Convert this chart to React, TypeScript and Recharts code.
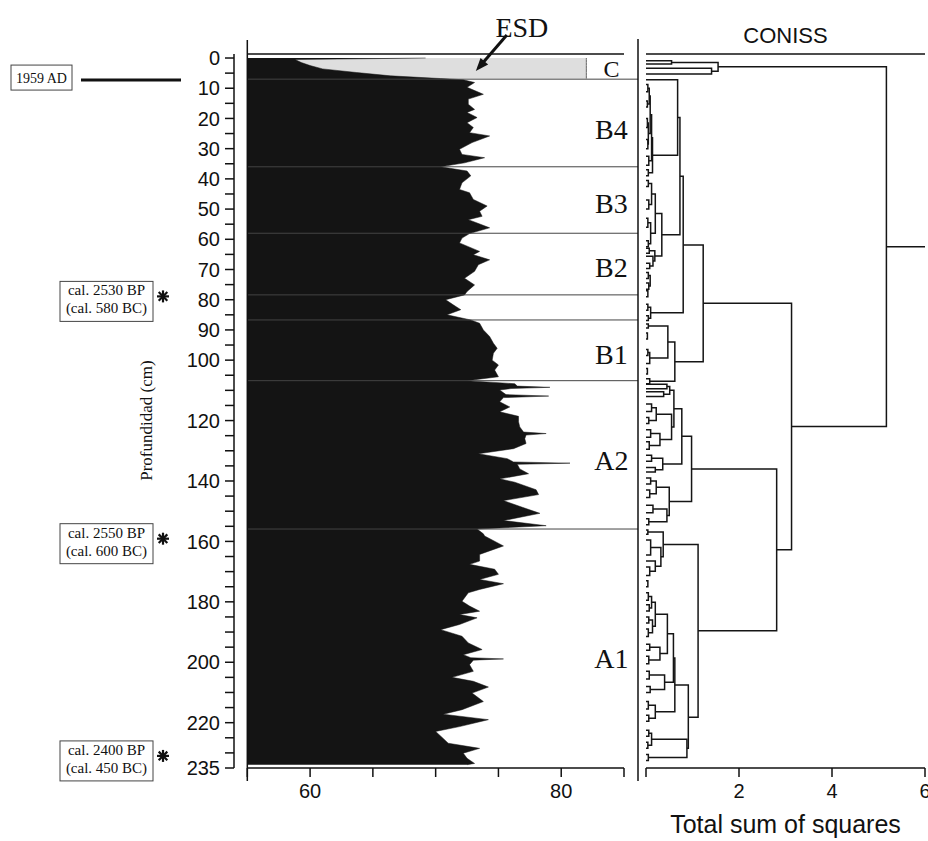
import React from "react";
import {
  ComposedChart,
  Area,
  Scatter,
  XAxis,
  YAxis,
  ReferenceLine,
  ReferenceDot,
} from "recharts";

const SANS = "'Liberation Sans', Arial, sans-serif";
const SERIF = "'Liberation Serif', 'Times New Roman', serif";

// profile: depth (cm) and value
const depths = [
  0, 0.5, 1.5, 2.5, 3.6, 4.8, 5.9, 6.8, 7.2, 8.1, 9.7, 12.0, 13.6, 15.3, 17.0, 18.0, 19.7, 21.4, 23.0, 24.7,
  25.8, 28.0, 30.2, 31.9, 33.0, 34.7, 36.0, 37.4, 39.0, 41.3, 43.5, 44.6, 46.8, 49.0, 50.7, 52.4, 53.5, 54.6,
  56.2, 58.1, 59.6, 61.2, 64.0, 65.1, 66.8, 68.4, 70.6, 72.9, 75.1, 77.3, 78.4, 80.0, 81.7, 83.3, 85.0, 86.7,
  87.8, 90.0, 92.2, 94.4, 96.1, 97.7, 100.0, 101.6, 103.3, 105.5, 106.8, 107.8, 108.6, 109.0, 109.4, 109.9,
  111.4, 111.9, 112.4, 113.8, 115.5, 117.1, 118.6, 120.4, 122.1, 123.8, 124.3, 124.8, 126.0, 127.6, 129.3,
  131.0, 132.6, 133.7, 134.1, 134.5, 136.0, 137.6, 139.3, 140.4, 142.9, 144.5, 146.5, 148.7, 150.7, 153.1,
  154.8, 155.9, 157.5, 158.2, 161.5, 164.3, 166.5, 167.6, 169.2, 170.9, 172.6, 174.0, 175.9, 177.0, 179.8,
  181.4, 183.1, 184.2, 185.3, 187.5, 189.2, 191.4, 193.6, 195.8, 197.5, 198.5, 198.9, 199.3, 200.8, 203.0,
  205.0, 206.3, 208.2, 210.2, 213.0, 215.7, 217.2, 219.0, 221.3, 222.9, 225.2, 226.8, 228.5, 230.1, 231.8,
  233.5, 233.9,
];
const values = [
  69.2, 58.8, 59.3, 60.0, 61.0, 63.7, 66.4, 70.4, 72.2, 73.1, 72.5, 73.8, 72.6, 72.6, 73.1, 72.5, 73.3, 72.5, 73.0, 72.7,
  74.3, 72.9, 71.9, 72.1, 73.9, 72.3, 70.4, 72.5, 72.8, 72.1, 71.9, 72.7, 73.0, 74.1, 73.5, 73.7, 72.6, 73.3,
  74.3, 72.7, 72.1, 71.9, 73.5, 73.0, 74.3, 73.4, 73.1, 72.3, 73.1, 72.5, 72.3, 70.8, 71.4, 72.0, 70.9, 72.8,
  73.5, 73.8, 74.3, 74.6, 74.9, 74.6, 74.5, 75.0, 74.7, 75.0, 72.5, 76.3, 76.5, 79.1, 76.0, 75.1,
  75.6, 79.0, 75.4, 75.1, 75.9, 75.1, 76.6, 76.6, 76.7, 77.0, 78.8, 77.2, 77.1, 77.2, 76.2,
  73.4, 75.7, 76.2, 80.7, 76.5, 76.7, 77.4, 75.1, 76.3, 78.0, 78.2, 75.4, 76.9, 78.3, 75.4,
  78.8, 73.3, 73.8, 73.9, 75.4, 73.5, 73.5, 72.7, 74.7, 75.0, 73.5, 75.4, 73.5, 72.6, 72.1,
  72.7, 73.5, 71.9, 73.3, 71.9, 70.4, 72.1, 72.6, 73.7, 72.2, 72.8, 75.4, 73.0, 72.7, 73.0,
  71.3, 73.0, 74.2, 72.9, 73.8, 72.1, 70.6, 74.2, 71.9, 70.0, 70.6, 71.0, 73.5, 72.2, 72.5,
  73.1, 72.5,
];

// ESD band at the top of the core
const esdDepths = [0, 0.5, 1.5, 2.5, 3.6, 4.8, 5.9, 6.8];
const esdValues = [82, 82, 82, 82, 82, 82, 82, 82];

const depthTicks = [
  0, 5, 10, 15, 20, 25, 30, 35, 40, 45, 50, 55, 60, 65, 70, 75, 80, 85, 90, 95, 100, 105, 110, 115, 120,
  125, 130, 135, 140, 145, 150, 155, 160, 165, 170, 175, 180, 185, 190, 195, 200, 205, 210, 215, 220, 225,
  230, 235,
];
const depthLabels = [0, 10, 20, 30, 40, 50, 60, 70, 80, 90, 100, 120, 140, 160, 180, 200, 220, 235];
const valueTicks = [55, 60, 65, 70, 75, 80, 85];
const valueTopTicks = [60, 65, 70, 75, 80];
const valueLabels = [60, 80];

const zoneBounds = [7, 36, 58, 78.4, 86.7, 106.8, 155.9];
const zoneNames = ["C", "B4", "B3", "B2", "B1", "A2", "A1"];
const zoneLabelDepths = [3.5, 23.5, 48, 69.3, 98.1, 133.2, 198.5];

const surfaceDepth = 7.3;
const surfaceText = "1959 AD";
const datingDepths = [78.9, 159.1, 231.0];
const datingBP = ["cal. 2530 BP", "cal. 2550 BP", "cal. 2400 BP"];
const datingBC = ["(cal. 580 BC)", "(cal. 600 BC)", "(cal. 450 BC)"];

// CONISS links: [top depth, top height, bottom depth, bottom height, node height]
const coniss: number[][] = [
  [0.9, 0, 2.0, 0, 0.55],
  [3.4, 0, 5.3, 0, 1.41],
  [1.45, 0.55, 4.35, 1.41, 1.55],
  [2.9, 1.55, 122.0, 3.13, 5.17],
  [81.2, 1.23, 162.8, 2.81, 3.13],
  [61.9, 0.8, 100.5, 0.62, 1.23],
  [136.0, 0.98, 189.6, 1.12, 2.81],
  [39.1, 0.73, 84.3, 0.1, 0.8],
  [19.7, 0.68, 58.5, 0.34, 0.73],
  [7.2, 0, 32.2, 0.14, 0.68],
  [26.4, 0.12, 38.0, 0.05, 0.14],
  [37.0, 0, 39.0, 0, 0.05],
  [18.8, 0.09, 34.0, 0.06, 0.12],
  [32.5, 0, 35.5, 0, 0.06],
  [12.6, 0.07, 25.0, 0.05, 0.09],
  [10.0, 0.04, 15.2, 0.03, 0.07],
  [8.8, 0, 11.2, 0, 0.04],
  [14.2, 0, 16.2, 0, 0.03],
  [21.5, 0.03, 28.5, 0.04, 0.05],
  [20.0, 0, 23.0, 0, 0.03],
  [27.0, 0, 30.0, 0, 0.04],
  [51.5, 0.2, 65.5, 0.19, 0.34],
  [45.0, 0.12, 58.0, 0.1, 0.2],
  [41.5, 0.05, 48.5, 0.06, 0.12],
  [40.5, 0, 42.5, 0, 0.05],
  [47.0, 0, 50.0, 0, 0.06],
  [54.5, 0.04, 61.5, 0.05, 0.1],
  [53.0, 0, 56.0, 0, 0.04],
  [60.5, 0, 62.5, 0, 0.05],
  [63.8, 0.07, 67.2, 0.15, 0.19],
  [63.0, 0, 64.6, 0, 0.07],
  [65.6, 0, 68.8, 0.08, 0.15],
  [67.9, 0, 69.7, 0, 0.08],
  [71.0, 0, 73.0, 0, 0.05],
  [74.5, 0, 76.5, 0, 0.06],
  [72.0, 0.05, 75.5, 0.06, 0.09],
  [77.0, 0, 79.0, 0, 0.04],
  [82.5, 0.04, 86.1, 0.05, 0.1],
  [81.5, 0, 83.5, 0, 0.04],
  [85.3, 0, 86.9, 0, 0.05],
  [94.0, 0.47, 107.0, 0.08, 0.62],
  [88.7, 0.05, 99.3, 0.08, 0.47],
  [88.0, 0, 89.4, 0, 0.05],
  [97.5, 0.04, 101.1, 0, 0.08],
  [96.5, 0, 98.5, 0, 0.04],
  [106.2, 0, 107.8, 0, 0.08],
  [91.0, 0, 93.0, 0, 0.03],
  [102.8, 0, 104.6, 0, 0.03],
  [108.0, 0, 109.5, 0, 0.45],
  [110.5, 0, 112.0, 0, 0.38],
  [108.75, 0.45, 111.25, 0.38, 0.51],
  [114.5, 0, 117.0, 0, 0.12],
  [119.0, 0, 121.0, 0, 0.06],
  [115.75, 0.12, 120.0, 0.06, 0.22],
  [123.0, 0, 125.5, 0, 0.1],
  [127.0, 0, 129.5, 0, 0.07],
  [124.25, 0.1, 128.25, 0.07, 0.3],
  [117.9, 0.22, 126.25, 0.3, 0.55],
  [110.0, 0.51, 122.1, 0.55, 0.6],
  [131.5, 0, 133.5, 0, 0.12],
  [135.5, 0, 137.0, 0, 0.2],
  [132.5, 0.12, 136.25, 0.2, 0.36],
  [116.05, 0.6, 134.4, 0.36, 0.77],
  [139.0, 0, 141.0, 0, 0.1],
  [143.0, 0, 145.5, 0, 0.08],
  [140.0, 0.1, 144.25, 0.08, 0.22],
  [148.0, 0, 150.5, 0, 0.15],
  [152.5, 0, 154.5, 0, 0.06],
  [149.25, 0.15, 153.5, 0.06, 0.45],
  [142.1, 0.22, 151.4, 0.45, 0.5],
  [125.2, 0.77, 146.75, 0.5, 0.98],
  [161.0, 0.37, 218.2, 0.91, 1.12],
  [156.2, 0, 157.6, 0, 0.04],
  [156.9, 0.04, 165.1, 0.32, 0.37],
  [162.0, 0.1, 168.2, 0.2, 0.32],
  [159.5, 0, 164.5, 0, 0.1],
  [166.5, 0, 169.9, 0.08, 0.2],
  [168.5, 0, 171.3, 0, 0.08],
  [173.0, 0, 175.0, 0, 0.04],
  [177.0, 0, 179.5, 0, 0.05],
  [181.0, 0, 183.0, 0, 0.07],
  [178.25, 0.05, 182.0, 0.07, 0.12],
  [185.0, 0, 187.0, 0, 0.06],
  [189.0, 0, 191.5, 0, 0.05],
  [186.0, 0.06, 190.25, 0.05, 0.14],
  [180.1, 0.12, 188.1, 0.14, 0.2],
  [194.0, 0, 196.0, 0, 0.08],
  [198.0, 0, 200.5, 0, 0.06],
  [195.0, 0.08, 199.25, 0.06, 0.3],
  [184.1, 0.2, 197.1, 0.3, 0.46],
  [203.0, 0, 205.5, 0, 0.07],
  [208.0, 0, 210.0, 0, 0.09],
  [204.25, 0.07, 209.0, 0.09, 0.4],
  [190.6, 0.46, 206.6, 0.4, 0.59],
  [213.0, 0, 215.5, 0, 0.05],
  [217.5, 0, 219.5, 0, 0.06],
  [214.25, 0.05, 218.5, 0.06, 0.2],
  [198.6, 0.59, 216.4, 0.2, 0.62],
  [222.5, 0, 224.5, 0, 0.06],
  [226.5, 0, 228.5, 0, 0.04],
  [223.5, 0.06, 227.5, 0.04, 0.12],
  [230.5, 0, 232.5, 0, 0.05],
  [225.5, 0.12, 231.5, 0.05, 0.88],
  [207.5, 0.62, 228.5, 0.88, 0.91],
];
const rootDepth = 62.45;
const rootHeight = 5.17;
const sumTicks = [0, 2, 4, 6];
const sumTopTicks = [2, 4, 6];

const DEPTH_DOMAIN: [number, number] = [-1.33, 235];
const VALUE_DOMAIN: [number, number] = [53.94, 86.115];
const INK = "#111";
const TREE = "#151515";

const Asterisk = ({ x, y }: { x: number; y: number }) => (
  <g stroke={INK} strokeWidth={2.2}>
    <line x1={x - 6} y1={y} x2={x + 6} y2={y} />
    <line x1={x} y1={y - 6} x2={x} y2={y + 6} />
    <line x1={x - 4.3} y1={y - 4.3} x2={x + 4.3} y2={y + 4.3} />
    <line x1={x - 4.3} y1={y + 4.3} x2={x + 4.3} y2={y - 4.3} />
  </g>
);

export default function App() {
  const profile = depths.map((depth, i) => {
    const k = esdDepths.indexOf(depth);
    return { depth, cond: values[i], esd: k >= 0 ? esdValues[k] : null };
  });

  const axisTick = { fontSize: 20, fill: INK, fontFamily: SANS };
  const axisStroke = { stroke: INK, strokeWidth: 1.5 };

  return (
    <div style={{ position: "absolute", left: 0, top: 0, width: 928, height: 841, background: "#fff" }}>
      <div style={{ position: "absolute", left: 0, top: 0 }}>
        <ComposedChart
          width={640}
          height={841}
          layout="vertical"
          data={profile}
          margin={{ top: 54, right: 2, bottom: 33, left: 134 }}
        >
          <XAxis
            xAxisId="b"
            type="number"
            orientation="bottom"
            domain={VALUE_DOMAIN}
            allowDataOverflow
            ticks={valueTicks}
            interval={0}
            tickFormatter={(v: number) => (valueLabels.includes(v) ? String(v) : "")}
            axisLine={false}
            tickLine={axisStroke}
            tickSize={9}
            tickMargin={7}
            height={40}
            tick={axisTick}
          />
          <XAxis
            xAxisId="t"
            type="number"
            orientation="top"
            domain={VALUE_DOMAIN}
            allowDataOverflow
            ticks={valueTopTicks}
            interval={0}
            tick={false}
            axisLine={false}
            tickLine={{ stroke: INK, strokeWidth: 1.2 }}
            mirror
            tickSize={3}
            height={1}
          />
          <YAxis
            type="number"
            dataKey="depth"
            domain={DEPTH_DOMAIN}
            allowDataOverflow
            ticks={depthTicks}
            interval={0}
            tickFormatter={(v: number) => (depthLabels.includes(v) ? String(v) : "")}
            width={100}
            tickSize={9}
            tickMargin={5}
            axisLine={axisStroke}
            tickLine={axisStroke}
            tick={axisTick}
          />
          <Area
            xAxisId="b"
            dataKey="esd"
            type="linear"
            baseValue={55}
            fill="#dedede"
            fillOpacity={1}
            stroke="#666"
            strokeWidth={1}
            dot={false}
            activeDot={false}
            isAnimationActive={false}
          />
          <Area
            xAxisId="b"
            dataKey="cond"
            type="linear"
            baseValue={55}
            fill="#141414"
            fillOpacity={1}
            stroke="#141414"
            strokeWidth={0.5}
            dot={false}
            activeDot={false}
            isAnimationActive={false}
          />
          {zoneBounds.map((d) => (
            <ReferenceLine
              key={"z" + d}
              xAxisId="b"
              segment={[{ x: 55, y: d }, { x: VALUE_DOMAIN[1], y: d }]}
              stroke="#444"
              strokeWidth={1}
            />
          ))}
          {/* frame lines */}
          <ReferenceLine
            xAxisId="b"
            ifOverflow="visible"
            segment={[{ x: 55, y: -6 }, { x: 55, y: 239.3 }]}
            stroke={INK}
            strokeWidth={1.5}
          />
          <ReferenceLine
            xAxisId="b"
            ifOverflow="visible"
            segment={[{ x: VALUE_DOMAIN[1], y: -6.3 }, { x: VALUE_DOMAIN[1], y: 239.3 }]}
            stroke={INK}
            strokeWidth={1.5}
          />
          <ReferenceLine
            xAxisId="b"
            ifOverflow="visible"
            segment={[{ x: 55, y: 235 }, { x: 85, y: 235 }]}
            stroke={INK}
            strokeWidth={1.5}
          />
          <ReferenceLine
            xAxisId="b"
            ifOverflow="visible"
            segment={[{ x: 55, y: DEPTH_DOMAIN[0] }, { x: 85, y: DEPTH_DOMAIN[0] }]}
            stroke={INK}
            strokeWidth={1.5}
          />
          {zoneNames.map((name, i) => (
            <ReferenceDot
              key={name}
              xAxisId="b"
              x={84}
              y={zoneLabelDepths[i]}
              r={0}
              ifOverflow="visible"
              shape={(p: any) => (
                <text
                  x={p.cx}
                  y={p.cy}
                  dy="0.35em"
                  textAnchor="middle"
                  fontSize={name === "C" ? 24 : 28}
                  fontFamily={SERIF}
                  fill={INK}
                >
                  {name}
                </text>
              )}
            />
          ))}
          {/* ESD arrow */}
          <ReferenceDot
            xAxisId="b"
            x={73.2}
            y={4.3}
            r={0}
            ifOverflow="visible"
            shape={(p: any) => (
              <g>
                <line x1={p.cx + 6} y1={p.cy - 7} x2={p.cx + 31} y2={p.cy - 36} stroke={INK} strokeWidth={3} />
                <polygon
                  points={`${p.cx},${p.cy} ${p.cx + 12.3},${p.cy - 6.6} ${p.cx + 4.7},${p.cy - 13.1}`}
                  fill={INK}
                />
                <text x={p.cx + 46} y={p.cy - 34} textAnchor="middle" fontSize={28} fontFamily={SERIF} fill={INK}>
                  ESD
                </text>
              </g>
            )}
          />
          {/* 1959 AD */}
          <ReferenceDot
            xAxisId="b"
            x={VALUE_DOMAIN[0]}
            y={surfaceDepth}
            r={0}
            ifOverflow="visible"
            shape={(p: any) => (
              <g>
                <line x1={p.cx - 153} y1={p.cy} x2={p.cx - 53} y2={p.cy} stroke={INK} strokeWidth={3} />
                <rect x={p.cx - 223} y={p.cy - 15} width={61} height={25} fill="#fff" stroke="#444" strokeWidth={1} />
                <text x={p.cx - 192.5} y={p.cy + 2.5} textAnchor="middle" fontSize={14} fontFamily={SERIF} fill={INK}>
                  {surfaceText}
                </text>
              </g>
            )}
          />
          {datingDepths.map((d, i) => (
            <ReferenceDot
              key={"dt" + i}
              xAxisId="b"
              x={VALUE_DOMAIN[0]}
              y={d}
              r={0}
              ifOverflow="visible"
              shape={(p: any) => (
                <g>
                  <Asterisk x={p.cx - 71} y={p.cy} />
                  <rect x={p.cx - 174} y={p.cy - 15} width={93} height={40} fill="#fff" stroke="#444" strokeWidth={1} />
                  <text x={p.cx - 127.5} y={p.cy - 1} textAnchor="middle" fontSize={15} fontFamily={SERIF} fill={INK}>
                    {datingBP[i]}
                  </text>
                  <text x={p.cx - 127.5} y={p.cy + 17} textAnchor="middle" fontSize={15} fontFamily={SERIF} fill={INK}>
                    {datingBC[i]}
                  </text>
                </g>
              )}
            />
          ))}
          <ReferenceDot
            xAxisId="b"
            x={VALUE_DOMAIN[0]}
            y={120}
            r={0}
            ifOverflow="visible"
            shape={(p: any) => (
              <text
                x={p.cx - 87}
                y={p.cy}
                transform={`rotate(-90, ${p.cx - 87}, ${p.cy})`}
                textAnchor="middle"
                dominantBaseline="central"
                fontSize={17}
                fontFamily={SERIF}
                fill={INK}
              >
                Profundidad (cm)
              </text>
            )}
          />
        </ComposedChart>
      </div>

      <div style={{ position: "absolute", left: 640, top: 0 }}>
        <ComposedChart width={288} height={841} margin={{ top: 54, right: 3, bottom: 33, left: 6 }}>
          <XAxis
            xAxisId="b"
            type="number"
            dataKey="h"
            domain={[0, 6]}
            allowDataOverflow
            ticks={sumTicks}
            interval={0}
            tickFormatter={(v: number) => (v === 0 ? "" : String(v))}
            axisLine={axisStroke}
            tickLine={axisStroke}
            tickSize={9}
            tickMargin={7}
            height={40}
            tick={axisTick}
          />
          <XAxis
            xAxisId="t"
            type="number"
            orientation="top"
            domain={[0, 6]}
            allowDataOverflow
            ticks={sumTopTicks}
            interval={0}
            tick={false}
            axisLine={axisStroke}
            tickLine={{ stroke: INK, strokeWidth: 1.2 }}
            mirror
            tickSize={4}
            height={1}
          />
          <YAxis type="number" dataKey="d" domain={DEPTH_DOMAIN} allowDataOverflow reversed hide />
          {coniss.map(([d1, h1, d2, h2, h], i) => (
            <Scatter
              key={"c" + i}
              xAxisId="b"
              data={[
                { h: h1, d: d1 },
                { h, d: d1 },
                { h, d: d2 },
                { h: h2, d: d2 },
              ]}
              fill={TREE}
              line={{ stroke: TREE, strokeWidth: 1.5 }}
              shape={() => <g />}
              isAnimationActive={false}
            />
          ))}
          <Scatter
            xAxisId="b"
            data={[
              { h: rootHeight, d: rootDepth },
              { h: 6, d: rootDepth },
            ]}
            fill={TREE}
            line={{ stroke: TREE, strokeWidth: 1.5 }}
            shape={() => <g />}
            isAnimationActive={false}
          />
          <ReferenceDot
            xAxisId="b"
            x={3}
            y={DEPTH_DOMAIN[0]}
            r={0}
            ifOverflow="visible"
            shape={(p: any) => (
              <text x={p.cx} y={p.cy - 11} textAnchor="middle" fontSize={22} fontFamily={SANS} fill={INK}>
                CONISS
              </text>
            )}
          />
          <ReferenceDot
            xAxisId="b"
            x={3}
            y={DEPTH_DOMAIN[1]}
            r={0}
            ifOverflow="visible"
            shape={(p: any) => (
              <text x={p.cx} y={p.cy + 65} textAnchor="middle" fontSize={25} fontFamily={SANS} fill={INK}>
                Total sum of squares
              </text>
            )}
          />
        </ComposedChart>
      </div>
    </div>
  );
}
